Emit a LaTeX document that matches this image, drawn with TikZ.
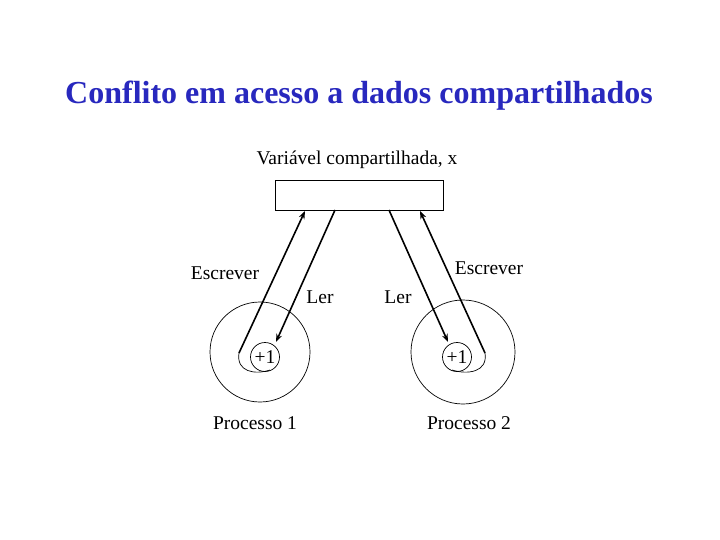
\documentclass[tikz,border=0pt]{standalone}
\usepackage{fontspec}
\setmainfont{Liberation Serif}
\usetikzlibrary{arrows.meta}
\begin{document}
\begin{tikzpicture}[x=1pt,y=-1pt,
  lbl/.style={font=\fontsize{19.5}{22}\selectfont, inner sep=0pt},
  arr/.style={line width=1.6pt,-{Stealth[length=8pt,width=6pt]}},
  thin/.style={line width=0.7pt}]
\useasboundingbox[fill=white] (0,0) rectangle (720,540);
\node[font=\fontsize{32}{36}\bfseries\selectfont, text={rgb,255:red,40;green,40;blue,190}] (title) at (359,96) {Conflito em acesso a dados compartilhados};
\node[lbl] (var) at (357,160) {Variável compartilhada, x};
\node[draw, thin, minimum width=168pt, minimum height=30pt, inner sep=0pt] (box) at (359,195) {};
\node[draw, thin, circle, minimum size=100pt, inner sep=0pt] (c1) at (260,352) {};
\node[draw, thin, circle, minimum size=104pt, inner sep=0pt] (c2) at (463,352) {};
\node[draw, thin, circle, minimum size=29pt, inner sep=0pt, lbl] (p1) at (265,357) {+1};
\node[draw, thin, circle, minimum size=29pt, inner sep=0pt, lbl] (p2) at (457,357) {+1};
\node[lbl] (e1) at (225,273) {Escrever};
\node[lbl] (l1) at (320,297) {Ler};
\node[lbl] (l2) at (398,297) {Ler};
\node[lbl] (e2) at (489,268) {Escrever};
\node[lbl] (pr1) at (255,423) {Processo 1};
\node[lbl] (pr2) at (469,423) {Processo 2};
\coordinate (a1s) at (239,353); \coordinate (a1e) at (305,211);
\coordinate (b1s) at (335,210); \coordinate (b1e) at (276,342);
\coordinate (b2s) at (389,210); \coordinate (b2e) at (448,342);
\coordinate (a2s) at (485,353); \coordinate (a2e) at (420,211);
\draw[arr] (a1s) -- (a1e);
\draw[arr] (b1s) -- (b1e);
\draw[arr] (b2s) -- (b2e);
\draw[arr] (a2s) -- (a2e);
\draw[thin] (a1s) .. controls (236,372) and (255,375) .. (270,370);
\draw[thin] (a2s) .. controls (488,372) and (468,375) .. (452,370);
\end{tikzpicture}
\end{document}
